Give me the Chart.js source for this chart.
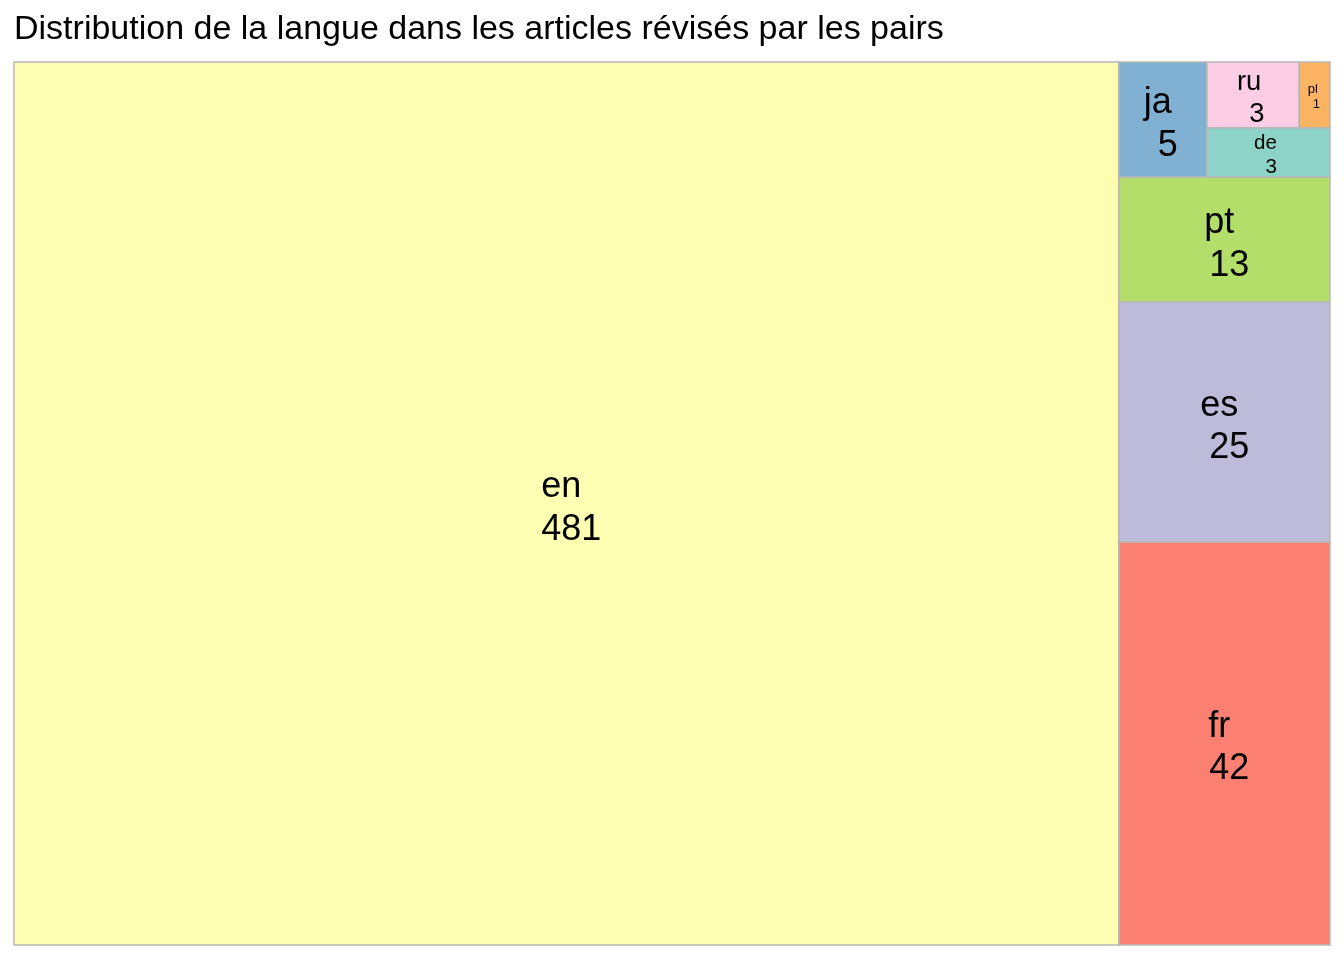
<!DOCTYPE html>
<html>
<head>
<meta charset="utf-8">
<script src="https://cdn.jsdelivr.net/npm/chart.js@4"></script>
<style>
  html, body { margin: 0; padding: 0; background: #ffffff; }
  #wrap { width: 1344px; height: 960px; }
</style>
</head>
<body>
<div id="wrap"><canvas id="c" width="1344" height="960"></canvas></div>
<script>
// ---- data ----
const TITLE = "Distribution de la langue dans les articles révisés par les pairs";
const languages = ["de", "en", "es", "fr", "ja", "pl", "pt", "ru"];
const counts    = [3, 481, 25, 42, 5, 1, 13, 3];
const colors    = ["#8DD3C7", "#FFFFB3", "#BEBADA", "#FB8072", "#80B1D3", "#FDB462", "#B3DE69", "#FCCDE5"];

// ---- squarified layout in unit square (y up) ----
function squarify(items) {
  const total = items.reduce((s, d) => s + d.value, 0);
  let rest = items.map(d => Object.assign({}, d, { area: d.value / total }));
  let x = 0, y = 0, w = 1, h = 1;
  const out = [];
  function worst(row, side) {
    const s = row.reduce((a, r) => a + r.area, 0);
    const thick = s / side;
    let m = 0;
    for (const r of row) {
      const len = r.area / thick;
      m = Math.max(m, thick / len, len / thick);
    }
    return m;
  }
  while (rest.length) {
    const vertical = w >= h;
    const side = vertical ? h : w;
    let row = [rest[0]];
    let best = worst(row, side);
    let i = 1;
    while (i < rest.length) {
      const cand = row.concat([rest[i]]);
      const wr = worst(cand, side);
      if (wr <= best) { row = cand; best = wr; i++; } else break;
    }
    const s = row.reduce((a, r) => a + r.area, 0);
    const thick = s / side;
    if (vertical) {
      let yy = y;
      for (const r of row) { const len = r.area / thick; out.push(Object.assign(r, { x0: x, x1: x + thick, y0: yy, y1: yy + len })); yy += len; }
      x += thick; w -= thick;
    } else {
      let xx = x;
      for (const r of row) { const len = r.area / thick; out.push(Object.assign(r, { x0: xx, x1: xx + len, y0: y, y1: y + thick })); xx += len; }
      y += thick; h -= thick;
    }
    rest = rest.slice(row.length);
  }
  return out;
}

const items = languages.map((l, i) => ({ label: l, value: counts[i], color: colors[i] }))
  .sort((a, b) => b.value - a.value);
const cells = squarify(items);

const FONT = "'Liberation Sans', Arial, sans-serif";
const BASE = 36;

const treemapPlugin = {
  id: 'treemapCells',
  afterDatasetsDraw(chart) {
    const ctx = chart.ctx;
    const xs = chart.scales.x, ys = chart.scales.y;
    ctx.save();
    for (const c of cells) {
      const L = xs.getPixelForValue(c.x0), R = xs.getPixelForValue(c.x1);
      const T = ys.getPixelForValue(c.y1), B = ys.getPixelForValue(c.y0);
      ctx.fillStyle = c.color;
      ctx.fillRect(L, T, R - L, B - T);
    }
    ctx.strokeStyle = '#B8B8B8';
    ctx.lineWidth = 1.5;
    for (const c of cells) {
      const L = xs.getPixelForValue(c.x0), R = xs.getPixelForValue(c.x1);
      const T = ys.getPixelForValue(c.y1), B = ys.getPixelForValue(c.y0);
      ctx.strokeRect(L, T, R - L, B - T);
    }
    ctx.fillStyle = '#000000';
    ctx.textAlign = 'center';
    ctx.textBaseline = 'middle';
    for (const c of cells) {
      const L = xs.getPixelForValue(c.x0), R = xs.getPixelForValue(c.x1);
      const T = ys.getPixelForValue(c.y1), B = ys.getPixelForValue(c.y0);
      const bw = R - L, bh = B - T;
      const lines = [c.label + ' ', ' ' + String(c.value)];
      ctx.font = BASE + 'px ' + FONT;
      const tw = Math.max(...lines.map(s => ctx.measureText(s).width));
      const scale = Math.min(1, bw / (tw + 1.3 * BASE), bh / (2.4 * BASE));
      const fs = BASE * scale;
      const lh = fs * 1.17;
      ctx.font = fs + 'px ' + FONT;
      const cx = (L + R) / 2, cy = (T + B) / 2 + fs * 0.14;
      lines.forEach((s, i) => {
        ctx.fillText(s, cx, cy + (i - (lines.length - 1) / 2) * lh);
      });
    }
    ctx.restore();
  }
};

new Chart(document.getElementById('c'), {
  type: 'scatter',
  data: {
    datasets: [{
      data: cells.map(c => ({ x: (c.x0 + c.x1) / 2, y: (c.y0 + c.y1) / 2 })),
      pointRadius: 0,
      pointHoverRadius: 0
    }]
  },
  options: {
    responsive: false,
    animation: false,
    devicePixelRatio: 1,
    layout: { padding: { left: 14, right: 14, top: 0, bottom: 15 } },
    scales: {
      x: { type: 'linear', min: 0, max: 1, display: false },
      y: { type: 'linear', min: 0, max: 1, display: false }
    },
    plugins: {
      legend: { display: false },
      tooltip: { enabled: false },
      title: {
        display: true,
        text: TITLE,
        align: 'start',
        color: '#000000',
        font: { family: FONT, size: 34, weight: 'normal', lineHeight: 1.2 },
        padding: { top: 9.5, bottom: 11.7 }
      }
    }
  },
  plugins: [treemapPlugin]
});
</script>
</body>
</html>
